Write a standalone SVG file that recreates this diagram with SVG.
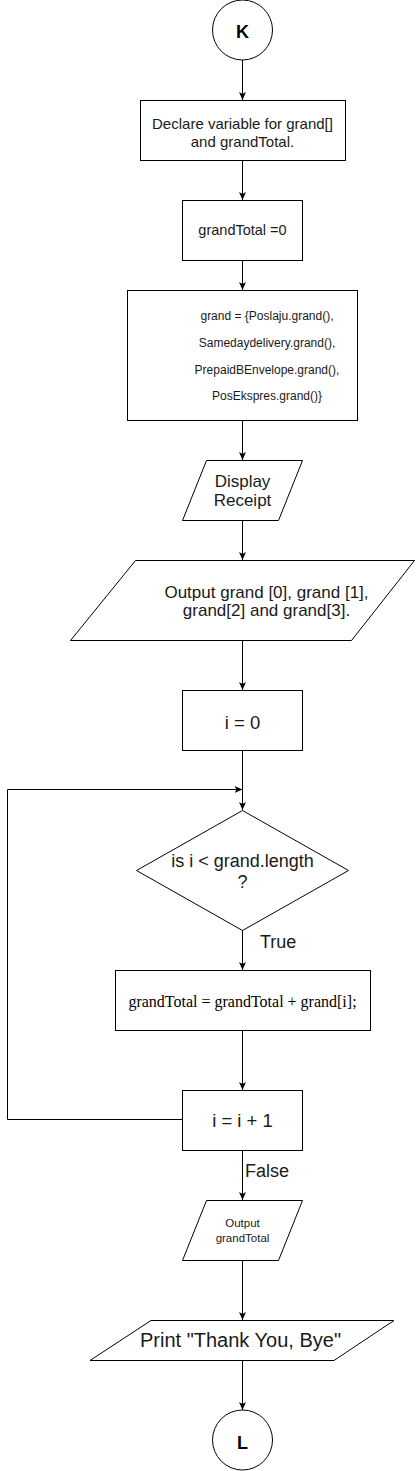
<svg xmlns="http://www.w3.org/2000/svg" width="416" height="1471" viewBox="0 0 416 1471">
<style>
.shape{fill:#fff;stroke:#000;stroke-width:1}
.edge{fill:none;stroke:#000;stroke-width:1}
.t{font-family:"Liberation Sans",Arial,Helvetica,sans-serif;fill:#1a1a1a;text-anchor:middle}
.s{font-family:"Liberation Serif","Times New Roman",serif;fill:#000;text-anchor:middle}
.b{font-weight:bold;fill:#000}
</style>
<defs>
<marker id="arr" markerUnits="userSpaceOnUse" markerWidth="8" markerHeight="8" viewBox="0 0 8 8" refX="8" refY="4" orient="auto">
<path d="M0,0.5 L8,4 L0,7.5 L2,4 Z" fill="#000"/>
</marker>
</defs>
<rect width="416" height="1471" fill="#fff"/>
<g id="connectors">
<path class="edge" d="M242.5,60 V100" marker-end="url(#arr)"/>
<path class="edge" d="M242.5,160 V200" marker-end="url(#arr)"/>
<path class="edge" d="M242.5,260 V290" marker-end="url(#arr)"/>
<path class="edge" d="M242.5,420 V460" marker-end="url(#arr)"/>
<path class="edge" d="M242.5,520 V560" marker-end="url(#arr)"/>
<path class="edge" d="M242.5,640 V690" marker-end="url(#arr)"/>
<path class="edge" d="M242.5,750 V810" marker-end="url(#arr)"/>
<path class="edge" d="M242.5,930 V970" marker-end="url(#arr)"/>
<path class="edge" d="M242.5,1030 V1090" marker-end="url(#arr)"/>
<path class="edge" d="M182.5,1119.5 H7.5 V789.5 H242.5" marker-end="url(#arr)"/>
<path class="edge" d="M242.5,1150 V1200" marker-end="url(#arr)"/>
<path class="edge" d="M242.5,1260 V1320" marker-end="url(#arr)"/>
<path class="edge" d="M242.5,1360 V1410" marker-end="url(#arr)"/>
<text class="t" x="260" y="947.5" font-size="18" style="text-anchor:start">True</text>
<text class="t" x="245" y="1176.5" font-size="18" style="text-anchor:start">False</text>
</g>
<g id="nodeK">
<circle class="shape" cx="242.5" cy="30" r="30"/>
<text class="t b" x="242.5" y="37.5" font-size="18">K</text>
</g>
<g id="nodeDeclare">
<rect class="shape" x="140.5" y="100.5" width="205" height="60"/>
<text class="t" x="242.5" y="128.5" font-size="15">Declare variable for grand[]</text>
<text class="t" x="242.5" y="147" font-size="15">and grandTotal.</text>
</g>
<g id="nodeInit">
<rect class="shape" x="182.5" y="200.5" width="120" height="60"/>
<text class="t" x="242.5" y="235" font-size="14.5">grandTotal =0</text>
</g>
<g id="nodeGrand">
<rect class="shape" x="127.5" y="290.5" width="230" height="130"/>
<text class="t" x="267" y="320.3" font-size="12">grand = {Poslaju.grand(),</text>
<text class="t" x="267" y="347" font-size="12">Samedaydelivery.grand(),</text>
<text class="t" x="267" y="373.6" font-size="12">PrepaidBEnvelope.grand(),</text>
<text class="t" x="267" y="399.6" font-size="12">PosEkspres.grand()}</text>
</g>
<g id="nodeDisplay">
<polygon class="shape" points="206.5,460.5 302.5,460.5 278.5,520.5 182.5,520.5"/>
<text class="t" x="242.5" y="486.7" font-size="17">Display</text>
<text class="t" x="242.5" y="506" font-size="17">Receipt</text>
</g>
<g id="nodeOutput">
<polygon class="shape" points="135.5,560.5 414.5,560.5 351.5,640.5 70.5,640.5"/>
<text class="t" x="266.5" y="597.7" font-size="17">Output grand [0], grand [1],</text>
<text class="t" x="266.5" y="616" font-size="17">grand[2] and grand[3].</text>
</g>
<g id="nodeI0">
<rect class="shape" x="182.5" y="690.5" width="120" height="60"/>
<text class="t" x="242.5" y="729" font-size="18.5">i = 0</text>
</g>
<g id="nodeDecision">
<polygon class="shape" points="242.5,810.5 348.5,870.5 242.5,930.5 136.5,870.5"/>
<text class="t" x="242.5" y="866.5" font-size="18">is i &lt; grand.length</text>
<text class="t" x="242.5" y="888" font-size="18">?</text>
</g>
<g id="nodeSum">
<rect class="shape" x="115.5" y="970.5" width="255" height="60"/>
<text class="s" x="242.5" y="1007" font-size="16">grandTotal = grandTotal + grand[i];</text>
</g>
<g id="nodeInc">
<rect class="shape" x="182.5" y="1090.5" width="120" height="60"/>
<text class="t" x="242.5" y="1126.6" font-size="18.5">i = i + 1</text>
</g>
<g id="nodeOutTotal">
<polygon class="shape" points="206.5,1200.5 302.5,1200.5 278.5,1260.5 182.5,1260.5"/>
<text class="t" x="242.5" y="1227.4" font-size="11.5">Output</text>
<text class="t" x="242.5" y="1242.4" font-size="11.5">grandTotal</text>
</g>
<g id="nodePrint">
<polygon class="shape" points="151,1320.5 394,1320.5 334,1360.5 90,1360.5"/>
<text class="t" x="240.5" y="1347" font-size="20">Print "Thank You, Bye"</text>
</g>
<g id="nodeL">
<circle class="shape" cx="242.5" cy="1440" r="30"/>
<text class="t b" x="242.5" y="1449" font-size="18">L</text>
</g>
</svg>
